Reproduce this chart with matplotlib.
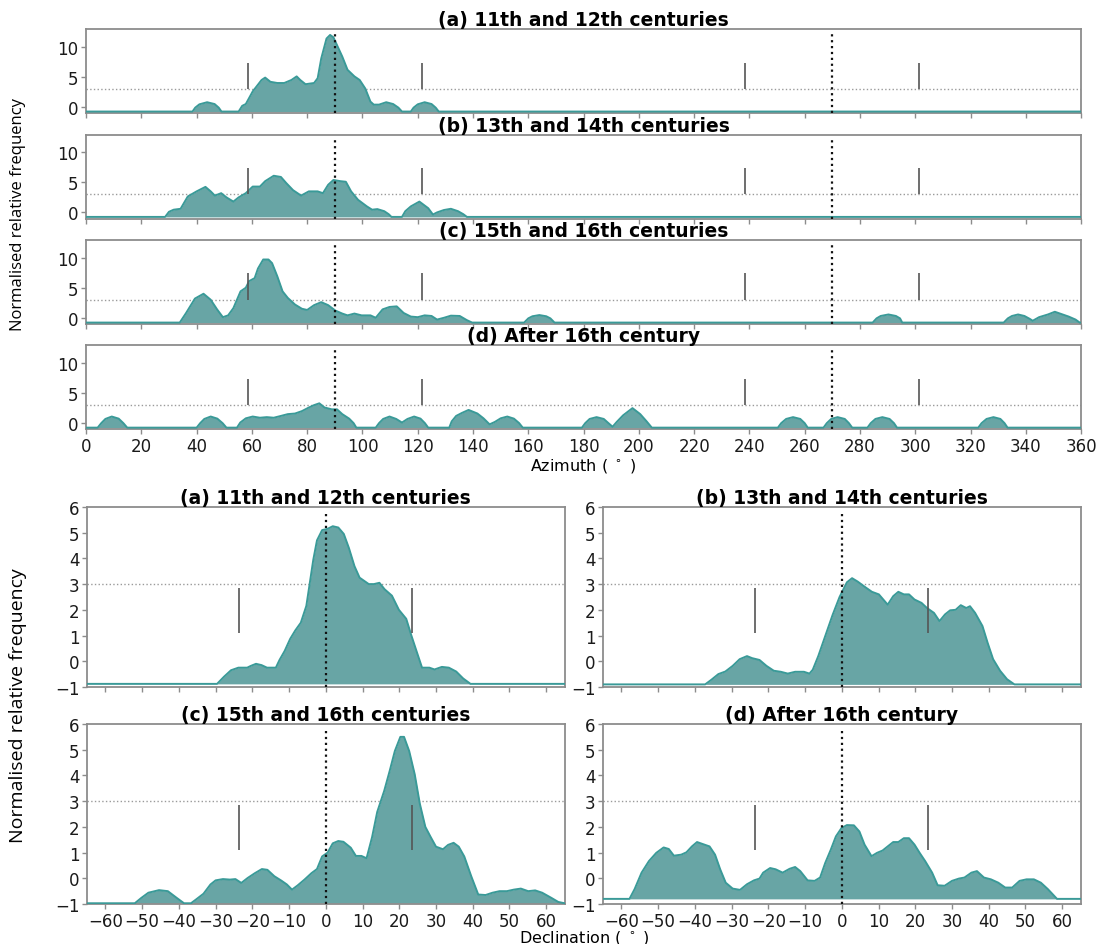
import numpy as np
import matplotlib
matplotlib.use("Agg")
import matplotlib.pyplot as plt

# ---------------------------------------------------------------------------
# Normalised relative frequency curves, read as (position, value) pairs.
# Azimuth curves (degrees, 0-360)
AZ_A = [(0, -0.75), (38.5, -0.75), (39.5, -0.1), (41, 0.45), (43.8, 0.8), (46.5, 0.5),
        (48, -0.1), (49, -0.75), (55.2, -0.75), (56.5, 0.2), (57.8, 0.5), (60.3, 2.6),
        (63.5, 4.5), (64.8, 4.9), (66.7, 4.2), (69.2, 4.0), (71.7, 4.0), (74.3, 4.5),
        (76.2, 5.1), (77.5, 4.5), (79.4, 3.8), (82.5, 4.0), (83.8, 4.8), (85.1, 8.1),
        (87, 11.4), (88.3, 12.0), (89.5, 11.6), (90.8, 10.3), (92.7, 8.4), (94.6, 6.2),
        (97.1, 5.1), (99, 4.5), (101, 3.1), (102.9, 0.9), (104.1, 0.4), (106, 0.4),
        (108.6, 0.8), (111.1, 0.5), (113, -0.1), (114.3, -0.75), (117.5, -0.75),
        (118.5, -0.1), (120, 0.45), (122.5, 0.8), (125, 0.5), (126.5, -0.1),
        (127.6, -0.75), (360, -0.75)]
AZ_B = [(0, -0.75), (28.6, -0.75), (30, 0.1), (31.7, 0.45), (34.2, 0.6), (36.8, 2.65),
        (40, 3.5), (43.2, 4.25), (45.1, 3.5), (46.6, 2.8), (48.9, 3.2), (50.8, 2.5),
        (53.3, 1.8), (55.2, 2.5), (57.8, 3.2), (60.3, 4.3), (62.9, 4.3), (64.8, 5.2),
        (67.9, 6.1), (70.5, 5.9), (72.4, 4.9), (74.9, 3.7), (77.8, 2.8), (80.6, 3.5),
        (83.8, 3.5), (85.7, 3.2), (87.6, 4.6), (89.5, 5.4), (92, 5.2), (94, 5.1),
        (95.9, 3.5), (98.4, 2.1), (101.6, 1.0), (103.5, 0.45), (105.4, 0.55),
        (107.9, 0.2), (109.5, -0.3), (110.5, -0.75), (114.3, -0.75), (115.5, 0.2),
        (117.5, 1.0), (120.6, 1.8), (123.8, 0.7), (125.5, -0.35), (127, 0.0),
        (129.5, 0.4), (132, 0.6), (134.6, 0.2), (136.5, -0.3), (137.8, -0.75),
        (360, -0.75)]
AZ_C = [(0, -0.8), (33.9, -0.8), (36.2, 0.8), (39.4, 3.2), (42.5, 4.0), (45.1, 3.0),
        (47.4, 1.4), (49.5, 0.1), (51.4, 0.4), (53.3, 1.6), (55.9, 4.4), (57.8, 5.0),
        (59, 6.1), (61, 6.6), (62.2, 8.2), (64.1, 9.7), (66, 9.7), (67.3, 9.1),
        (69.2, 6.9), (71.1, 4.4), (73, 3.3), (75.6, 2.2), (78.1, 1.5), (80, 1.3),
        (82.5, 2.1), (85.1, 2.6), (87.6, 2.1), (90.2, 1.2), (92.7, 0.7), (94.6, 0.4),
        (97.1, 0.7), (99.7, 0.4), (102.9, 0.4), (104.8, 0.0), (107.3, 1.4),
        (109.8, 1.8), (112.4, 1.9), (114.9, 0.8), (117.5, 0.2), (120, 0.1),
        (122.5, 0.4), (125, 0.3), (127, -0.3), (129.5, 0.0), (132, 0.35),
        (135.2, 0.3), (137.8, -0.4), (139.7, -0.8), (158.5, -0.8), (160, -0.1),
        (161.5, 0.25), (164, 0.45), (166.5, 0.25), (168, -0.1), (169.5, -0.8),
        (284.6, -0.8), (286, -0.1), (287.5, 0.3), (290.3, 0.55), (293, 0.3),
        (294.5, -0.1), (295.3, -0.8), (332, -0.8), (333.5, -0.1), (335, 0.3),
        (337.2, 0.55), (339.5, 0.3), (341.5, -0.2), (342.5, -0.5), (344.8, 0.1),
        (348, 0.55), (350.5, 1.0), (353, 0.6), (355.5, 0.2), (358, -0.3),
        (359.5, -0.8), (360, -0.8)]
AZ_D = [(0, -0.75), (4.2, -0.75), (5.5, 0.0), (7, 0.7), (9.3, 1.1), (11.8, 0.75),
        (13.5, 0.0), (14.9, -0.75), (40, -0.75), (41.3, 0.0), (42.8, 0.7), (45.1, 1.1),
        (47.5, 0.75), (49.4, 0.0), (50.8, -0.75), (54.6, -0.75), (55.8, 0.1),
        (57.8, 0.8), (60.3, 1.1), (62.9, 0.9), (65.4, 1.0), (67.9, 0.9), (70.5, 1.2),
        (73, 1.5), (75.6, 1.6), (78.1, 2.0), (80.6, 2.6), (82.5, 3.0), (84.4, 3.3),
        (86.3, 2.6), (88.9, 2.3), (90.8, 2.3), (92.7, 1.5), (95.2, 0.75), (96.8, 0.0),
        (97.8, -0.75), (104.8, -0.75), (106, 0.0), (107.5, 0.7), (109.8, 1.1),
        (112.2, 0.7), (114.3, 0.1), (116.3, 0.7), (118.7, 1.1), (121, 0.75),
        (122.6, 0.0), (123.8, -0.75), (131.4, -0.75), (132.3, 0.3), (133.9, 1.2),
        (136, 1.7), (138.4, 2.2), (141.6, 1.6), (143.8, 0.8), (146, -0.2),
        (147.9, 0.2), (150, 0.8), (152.4, 1.1), (154.8, 0.75), (156.7, 0.0),
        (158, -0.75), (179.4, -0.75), (180.6, 0.0), (182.2, 0.7), (184.7, 1.0),
        (187.3, 0.7), (189, 0.0), (190.5, -0.6), (192, 0.2), (194.3, 1.3),
        (197.7, 2.5), (200.5, 1.5), (202.8, 0.3), (204.7, -0.75), (250.3, -0.75),
        (251.5, 0.0), (253.3, 0.7), (255.8, 1.0), (258.4, 0.7), (260, 0.0),
        (261.1, -0.75), (266.8, -0.75), (268, 0.0), (269.6, 0.7), (271.9, 1.0),
        (274.5, 0.7), (276, 0.0), (277.2, -0.75), (282.7, -0.75), (283.9, 0.0),
        (285.6, 0.7), (288.1, 1.0), (290.7, 0.7), (292.3, 0.0), (293.4, -0.75),
        (322.8, -0.75), (324, 0.0), (325.8, 0.7), (328.3, 1.0), (330.8, 0.7),
        (332.3, 0.0), (333.4, -0.75), (360, -0.75)]

# Declination curves (degrees, -65..65)
DEC_A = [(-65, -0.88), (-29.6, -0.88), (-27.7, -0.6), (-25.8, -0.35), (-23.8, -0.25),
         (-21.4, -0.25), (-20.4, -0.18), (-19, -0.1), (-17.5, -0.15), (-16, -0.25),
         (-13.6, -0.25), (-12.6, 0.05), (-11.2, 0.4), (-9.7, 0.87), (-8.3, 1.2),
         (-6.8, 1.5), (-5.3, 2.15), (-4.4, 3.0), (-3.4, 3.95), (-2.4, 4.7), (-1, 5.1),
         (0.5, 5.15), (1.9, 5.25), (3.4, 5.2), (4.9, 4.95), (6.3, 4.4), (7.8, 3.7),
         (9.2, 3.25), (10.7, 3.1), (11.7, 3.0), (13.1, 3.0), (14.6, 3.05), (16, 2.8),
         (18, 2.55), (19.9, 2.0), (21.9, 1.65), (23.3, 1.0), (24.8, 0.35),
         (26.2, -0.25), (28.2, -0.25), (29.6, -0.32), (31.6, -0.22), (33.5, -0.25),
         (35.5, -0.4), (37.4, -0.67), (39.4, -0.88), (65, -0.88)]
DEC_B = [(-65, -0.9), (-37.2, -0.9), (-35.5, -0.72), (-33.6, -0.5), (-31.7, -0.4),
         (-29.7, -0.18), (-27.8, 0.08), (-25.8, 0.2), (-24.4, 0.12), (-22.4, 0.05),
         (-20.5, -0.18), (-18.5, -0.37), (-16.6, -0.41), (-14.7, -0.48), (-12.7, -0.41),
         (-10.3, -0.41), (-8.8, -0.48), (-7.9, -0.33), (-6.4, 0.2), (-4.5, 0.98),
         (-2.5, 1.8), (-0.6, 2.5), (1.4, 3.07), (2.8, 3.23), (4.3, 3.1), (6.2, 2.9),
         (8.2, 2.7), (10.1, 2.6), (12.5, 2.2), (14, 2.53), (15.4, 2.7), (16.9, 2.6),
         (18.3, 2.6), (19.8, 2.4), (21.7, 2.27), (23.2, 2.07), (25.1, 1.88),
         (26.6, 1.56), (28.1, 1.82), (29.5, 1.98), (31, 2.0), (32.4, 2.18),
         (33.9, 2.07), (34.9, 2.14), (36.3, 1.88), (38.3, 1.37), (39.7, 0.72),
         (41.2, 0.08), (43.1, -0.37), (45, -0.7), (47, -0.9), (65, -0.9)]
DEC_C = [(-65, -0.97), (-52, -0.97), (-50.2, -0.76), (-48.3, -0.56), (-45.4, -0.46),
         (-43, -0.5), (-40.6, -0.76), (-38.6, -0.97), (-36.7, -0.97), (-35.3, -0.82),
         (-33.3, -0.6), (-31.4, -0.24), (-30, -0.08), (-28, -0.03), (-26.1, -0.05),
         (-24.6, -0.03), (-23, -0.18), (-21.3, 0.01), (-19.3, 0.2), (-17.4, 0.36),
         (-15.9, 0.33), (-14, 0.08), (-12.1, -0.09), (-10.6, -0.24), (-9.2, -0.44),
         (-7.7, -0.28), (-5.8, -0.05), (-3.9, 0.2), (-2.4, 0.36), (-1, 0.85),
         (0.5, 1.0), (1.9, 1.36), (3.4, 1.45), (4.8, 1.42), (6.8, 1.19), (8.2, 0.87),
         (9.7, 0.87), (11.1, 0.78), (12.6, 1.6), (14, 2.58), (15.9, 3.4), (17.4, 4.18),
         (18.8, 4.95), (20.3, 5.5), (21.3, 5.5), (22.7, 4.95), (24.2, 4.05),
         (25.6, 2.9), (27.1, 2.0), (28.5, 1.62), (30, 1.23), (31.9, 1.13), (33.3, 1.3),
         (34.8, 1.38), (36.2, 1.23), (37.7, 0.85), (39.6, 0.08), (41.5, -0.63),
         (43.5, -0.65), (45.4, -0.56), (47.3, -0.5), (49.3, -0.5), (51.2, -0.44),
         (53.1, -0.4), (55.1, -0.5), (57, -0.47), (58.9, -0.56), (61.4, -0.76),
         (63.3, -0.92), (65, -0.97)]
DEC_D = [(-65, -0.8), (-57.8, -0.8), (-56.4, -0.42), (-54.5, 0.22), (-52.5, 0.67),
         (-50.5, 0.99), (-48.5, 1.2), (-47.1, 1.14), (-45.7, 0.88), (-43.7, 0.92),
         (-42.3, 1.01), (-40.8, 1.24), (-39.4, 1.41), (-37.4, 1.31), (-36, 1.24),
         (-34.5, 0.92), (-33.1, 0.35), (-31.6, -0.17), (-29.7, -0.4), (-27.7, -0.45),
         (-25.8, -0.23), (-23.9, -0.08), (-22.4, -0.01), (-21.4, 0.22), (-19.5, 0.4),
         (-18, 0.35), (-16.1, 0.22), (-14.2, 0.37), (-12.7, 0.44), (-11.3, 0.28),
         (-9.3, -0.08), (-7.4, -0.1), (-5.9, 0.03), (-4.5, 0.6), (-3, 1.11),
         (-1.6, 1.63), (-0.1, 1.95), (1.4, 2.07), (3.3, 2.06), (4.8, 1.82), (6.2, 1.31),
         (8.1, 0.86), (9.6, 0.99), (11.1, 1.08), (12.5, 1.24), (14, 1.41), (15.4, 1.41),
         (16.9, 1.56), (18.3, 1.56), (19.8, 1.31), (21.2, 0.99), (22.7, 0.67),
         (24.6, 0.22), (26.1, -0.27), (28, -0.29), (30, -0.1), (31.9, -0.01),
         (33.4, 0.03), (35.3, 0.22), (36.8, 0.28), (38.7, 0.03), (40.6, -0.04),
         (42.6, -0.17), (44.5, -0.36), (46.4, -0.36), (48.4, -0.1), (50.3, -0.04),
         (52.3, -0.04), (54.2, -0.17), (56.1, -0.42), (58.6, -0.8), (65, -0.8)]

TITLES = ["(a) 11th and 12th centuries", "(b) 13th and 14th centuries",
          "(c) 15th and 16th centuries", "(d) After 16th century"]

AZ_CARDINAL = [90, 270]                      # east / west
AZ_SOLSTICE = [58.5, 121.5, 238.5, 301.5]    # solstitial azimuths
DEC_CARDINAL = [0]
DEC_SOLSTICE = [-23.5, 23.5]
THRESHOLD = 3

FILL = "#68a5a5"
EDGE = "#3a9a98"
SPINE = "#8c8c8c"
TICK_SIZE = 12
TITLE_SIZE = 13.5


def draw_curve(ax, pts):
    x, y = np.array(pts).T
    ax.fill_between(x, y.min(), y, color=FILL, lw=0, zorder=2)
    ax.plot(x, y, color=EDGE, lw=1.4, zorder=3)


def style(ax):
    for s in ax.spines.values():
        s.set_color(SPINE)
        s.set_linewidth(1.3)
    ax.tick_params(colors=SPINE, labelcolor="#1a1a1a", labelsize=TICK_SIZE,
                   length=3.5, width=1, pad=2)


fig = plt.figure(figsize=(10.99, 9.45), dpi=100)

# azimuth stack
az_curves = [AZ_A, AZ_B, AZ_C, AZ_D]
for i, (pts, title) in enumerate(zip(az_curves, TITLES)):
    ax = fig.add_axes([0.0783, 0.879 - i * 0.1115, 0.9054, 0.089])
    draw_curve(ax, pts)
    ax.axhline(THRESHOLD, color="#9a9a9a", ls=":", lw=1.0, zorder=1)
    for a in AZ_CARDINAL:
        ax.axvline(a, ymax=0.97, color="#111111", ls=":", lw=1.6, zorder=4)
    ax.vlines(AZ_SOLSTICE, THRESHOLD, 7.4, color="#555555", lw=1.2, zorder=4)
    ax.set_xlim(0, 360)
    ax.set_ylim(-1.05, 12.95)
    ax.set_xticks(np.arange(0, 361, 20))
    ax.set_yticks([0, 5, 10])
    if i < 3:
        ax.tick_params(labelbottom=False)
    ax.set_title(title, fontsize=TITLE_SIZE, fontweight="bold", pad=2)
    style(ax)
fig.text(0.531, 1 - 466 / 945, r"Azimuth ( $^\circ$ )", ha="center", va="center",
         fontsize=11.5)

# declination grid
dec_curves = [DEC_A, DEC_B, DEC_C, DEC_D]
dec_pos = [[0.0792, 0.272], [0.5487, 0.272], [0.0792, 0.0423], [0.5487, 0.0423]]
for (x0, y0), pts, title in zip(dec_pos, dec_curves, TITLES):
    ax = fig.add_axes([x0, y0, 0.4345, 0.1905])
    draw_curve(ax, pts)
    ax.axhline(THRESHOLD, color="#9a9a9a", ls=":", lw=1.0, zorder=1)
    for d in DEC_CARDINAL:
        ax.axvline(d, ymax=0.97, color="#111111", ls=":", lw=1.6, zorder=4)
    ax.vlines(DEC_SOLSTICE, 1.1, 2.85, color="#555555", lw=1.2, zorder=4)
    ax.set_xlim(-65, 65)
    ax.set_ylim(-1, 6)
    ax.set_xticks(np.arange(-60, 61, 10))
    ax.set_yticks(np.arange(-1, 7))
    if y0 > 0.1:
        ax.tick_params(labelbottom=False)
    ax.set_title(title, fontsize=TITLE_SIZE, fontweight="bold", pad=2)
    style(ax)

fig.text(0.532, 1 - 938 / 945, r"Declination ( $^\circ$ )", ha="center", va="center",
         fontsize=11.5)

ylab_font = ["Liberation Sans Narrow", "Open Sans"]
fig.text(0.016, 1 - 215 / 945, "Normalised relative frequency", rotation=90,
         ha="center", va="center", fontsize=12, family=ylab_font)
fig.text(0.016, 1 - 706 / 945, "Normalised relative frequency", rotation=90,
         ha="center", va="center", fontsize=14, family=ylab_font)

fig.savefig("out.png", dpi=100)
